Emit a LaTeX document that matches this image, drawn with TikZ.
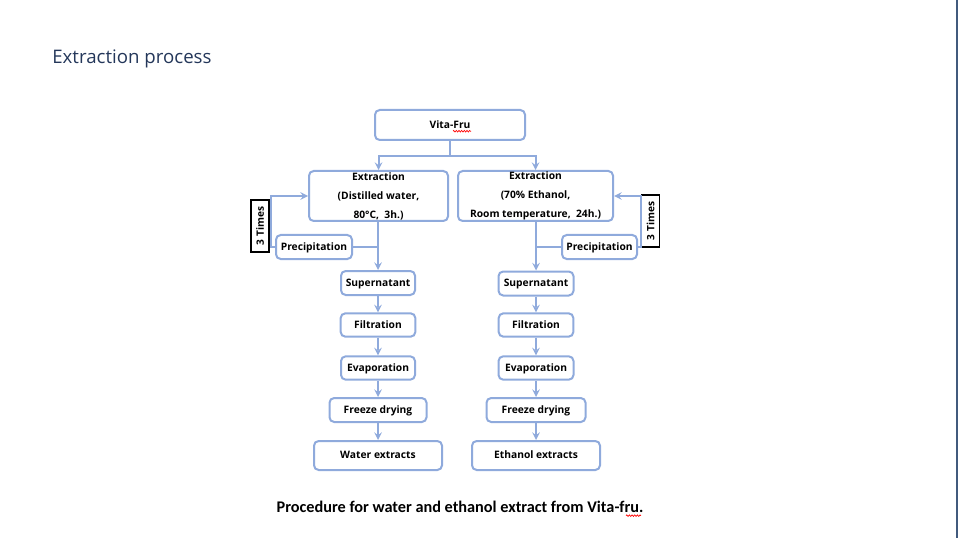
\documentclass[tikz,border=0pt]{standalone}
\usepackage{fontspec}
\setmainfont{Open Sans}
\newfontfamily\capfont{Carlito}
\usetikzlibrary{positioning, calc, decorations.pathmorphing}
\definecolor{boxblue}{RGB}{143,170,220}
\definecolor{titlenavy}{RGB}{36,55,90}
\definecolor{edgeslate}{RGB}{65,90,125}

\begin{document}
\begin{tikzpicture}[x=0.75pt, y=-0.75pt, >=stealth,
  box/.style={draw=boxblue, line width=1.5pt, rounded corners=3.5pt, fill=white,
    font=\fontsize{7.7}{14.25}\selectfont\bfseries, align=center, inner sep=0pt},
  onebox/.style={box, text height=6.3pt, text depth=1.5pt},
  flow/.style={draw=boxblue, line width=1.5pt},
  timesbox/.style={draw, line width=1pt, rotate=90, inner sep=0pt,
    font=\fontsize{7.6}{10}\selectfont\bfseries, minimum width=39pt, minimum height=13.5pt},
  spell/.style={red, line width=0.5pt, decorate,
    decoration={zigzag, amplitude=0.6pt, segment length=2pt}}]
  \useasboundingbox (0,0) rectangle (959,538);
  \draw[edgeslate, line width=1.5pt] (957,0) -- (957,538);
  \node[anchor=west, inner sep=0pt, text=titlenavy, font=\fontsize{14}{16}\selectfont] (title) at (52,59) {Extraction process};

  % top
  \node[onebox, minimum width=112.5pt, minimum height=22.5pt] (vita) at (450,125) {Vita-Fru};
  \draw[spell] ($(vita.base)+(3,3)$) -- ($(vita.base)+(21,3)$);

  % extraction
  \node[box, minimum width=104.25pt, minimum height=37.5pt] (extrL) at (378.5,196)
    {Extraction\\(Distilled water,\\80°C, \ 3h.)};
  \node[box, minimum width=116.25pt, minimum height=37.5pt] (extrR) at (535.5,196)
    {Extraction\\(70\% Ethanol,\\Room temperature, \ 24h.)};
  \node[onebox, minimum width=57pt, minimum height=18pt] (precL) at (314,247) {Precipitation};
  \node[onebox, minimum width=56.25pt, minimum height=18pt] (precR) at (599.5,247) {Precipitation};
  \node[timesbox] (timesL) at (260,226) {3 Times};
  \node[timesbox] (timesR) at (650.5,221) {3 Times};

  % water branch
  \node[onebox, minimum width=55.5pt, minimum height=18pt] (supL) at (378,283) {Supernatant};
  \node[onebox, minimum width=56pt, minimum height=17.5pt] (filtL) at (378,325) {Filtration};
  \node[onebox, minimum width=55.5pt, minimum height=17.5pt] (evapL) at (378,368) {Evaporation};
  \node[onebox, minimum width=72.75pt, minimum height=18pt] (freezeL) at (378,410) {Freeze drying};
  \node[onebox, minimum width=96pt, minimum height=21.75pt] (endL) at (378,455.5) {Water extracts};

  % ethanol branch
  \node[onebox, minimum width=56.25pt, minimum height=18pt] (supR) at (536,283.5) {Supernatant};
  \node[onebox, minimum width=56pt, minimum height=17.5pt] (filtR) at (536,325) {Filtration};
  \node[onebox, minimum width=56.25pt, minimum height=17.5pt] (evapR) at (536,368) {Evaporation};
  \node[onebox, minimum width=74.25pt, minimum height=18pt] (freezeR) at (536,410) {Freeze drying};
  \node[onebox, minimum width=96pt, minimum height=21.75pt] (endR) at (536,455.5) {Ethanol extracts};

  % connectors
  \draw[flow] (vita.south) -- ++(0,15) coordinate (split);
  \draw[flow, ->] (split) -| (extrL.north);
  \draw[flow, ->] (split) -| (extrR.north);
  \draw[flow, ->] (extrL.south -| supL.north) -- (supL.north);
  \draw[flow, ->] (extrR.south -| supR.north) -- (supR.north);
  \draw[flow] (precL.east) -- (precL.east -| supL.north);
  \draw[flow] (precR.west) -- (precR.west -| supR.north);
  \draw[flow, ->] (precL.west) -- ++(-4,0) |- (extrL.west);
  \draw[flow, ->] (precR.east) -- ++(3,0) |- (extrR.east);
  \foreach \s in {L,R} {
    \draw[flow, ->] (sup\s) -- (filt\s);
    \draw[flow, ->] (filt\s) -- (evap\s);
    \draw[flow, ->] (evap\s) -- (freeze\s);
    \draw[flow, ->] (freeze\s) -- (end\s);
  }

  \node[font=\capfont\fontsize{12.2}{14}\selectfont\bfseries] (caption) at (460,507)
    {Procedure for water and ethanol extract from Vita-fru.};
  \draw[spell] ($(caption.base east)+(-22,3)$) -- ($(caption.base east)+(-7,3)$);
\end{tikzpicture}
\end{document}
